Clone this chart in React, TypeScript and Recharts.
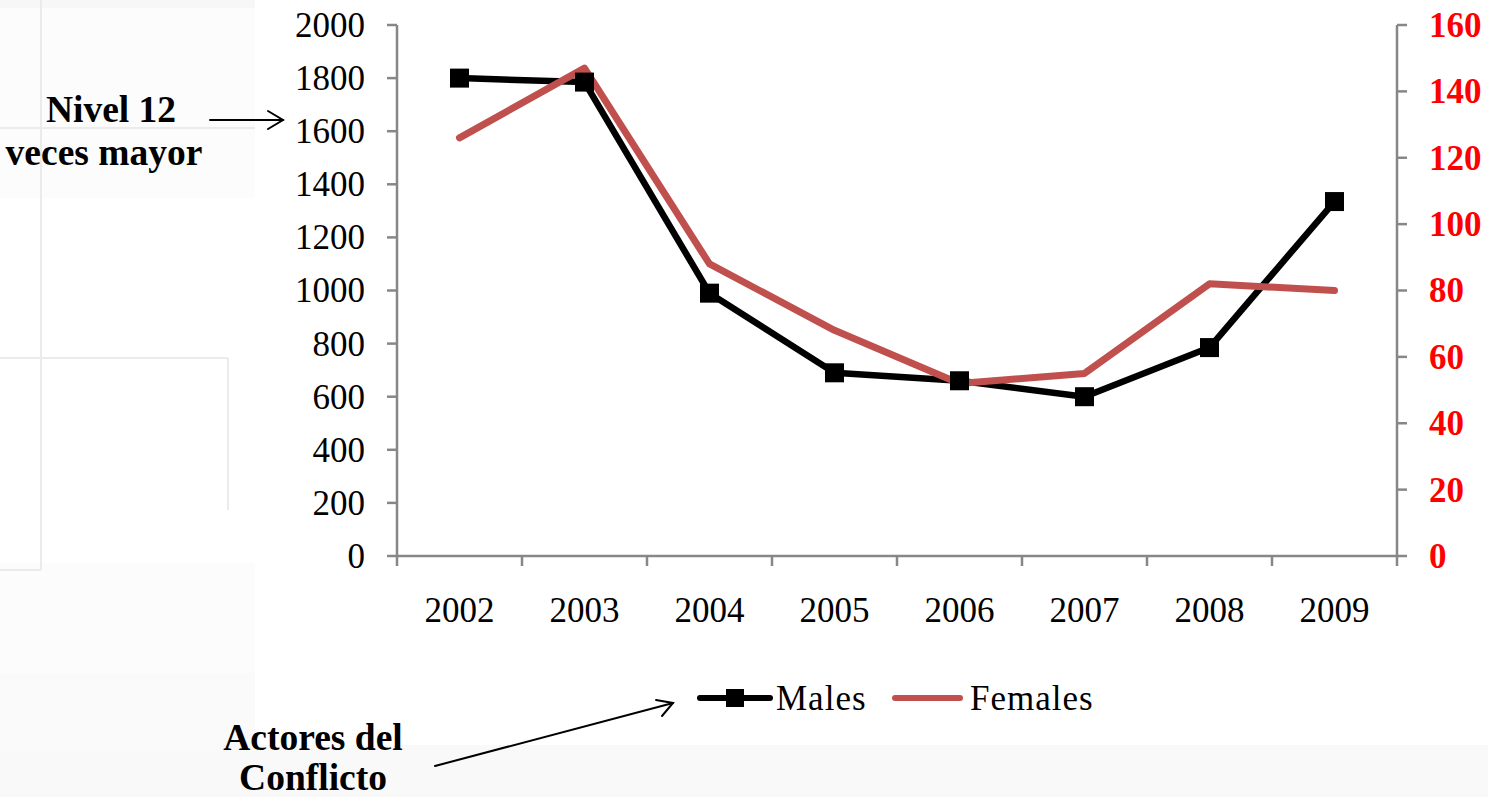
import React from 'react';
import { LineChart, Line, XAxis, YAxis, Legend } from 'recharts';

// Yearly counts: males on the left axis, females on the right axis
const years = ['2002', '2003', '2004', '2005', '2006', '2007', '2008', '2009'];
const males = [1800, 1785, 990, 690, 660, 600, 785, 1335];
const females = [126, 147, 88, 68, 52, 55, 82, 80];
const leftTicks = [0, 200, 400, 600, 800, 1000, 1200, 1400, 1600, 1800, 2000];
const rightTicks = [0, 20, 40, 60, 80, 100, 120, 140, 160];
const seriesNames = { males: 'Males', females: 'Females' };
const legendOrder = ['males', 'females'];

const data = years.map((year, i) => ({ year, males: males[i], females: females[i] }));

const WIDTH = 1488;
const HEIGHT = 797;
const PLOT_LEFT = 397;
const PLOT_RIGHT = 1397;
const PLOT_TOP = 25;
const PLOT_BOTTOM = 556;
const LEFT_AXIS_W = 100;
const RIGHT_AXIS_W = WIDTH - PLOT_RIGHT;
const X_AXIS_H = 80;

const AXIS_GRAY = '#878787';
const MALE_COLOR = '#000000';
const FEMALE_COLOR = '#C0504D';
const FONT = '"Liberation Serif", "Times New Roman", serif';
const TICK_SIZE = 35;

const band = (PLOT_RIGHT - PLOT_LEFT) / years.length;

// Category labels with boundary tick marks between the years
const YearTick = (props: any) => {
  const { x, y, payload, index } = props;
  const left = x - band / 2;
  const right = x + band / 2;
  return (
    <g>
      <line x1={left} x2={left} y1={y} y2={y + 10} stroke={AXIS_GRAY} strokeWidth={2.5} />
      {index === years.length - 1 && (
        <line x1={right} x2={right} y1={y} y2={y + 10} stroke={AXIS_GRAY} strokeWidth={2.5} />
      )}
      <text x={x} y={y + 66} textAnchor="middle" fontSize={TICK_SIZE} fontFamily={FONT} fill="#000">
        {payload.value}
      </text>
    </g>
  );
};

const LeftTick = (props: any) => {
  const { x, y, payload } = props;
  return (
    <text x={x} y={y} dy="0.34em" textAnchor="end" fontSize={TICK_SIZE} fontFamily={FONT} fill="#000">
      {payload.value}
    </text>
  );
};

const RightTick = (props: any) => {
  const { x, y, payload } = props;
  return (
    <text
      x={x}
      y={y}
      dy="0.34em"
      textAnchor="start"
      fontSize={TICK_SIZE}
      fontWeight="bold"
      fontFamily={FONT}
      fill="#FF0000"
    >
      {payload.value}
    </text>
  );
};

const SquareDot = (props: any) => {
  const { cx, cy, index } = props;
  if (cx == null || cy == null) return <g key={`sq-${index}`} />;
  return <rect key={`sq-${index}`} x={cx - 9.5} y={cy - 9.5} width={19} height={19} fill={MALE_COLOR} />;
};

// Legend: line samples with the series names
const legendSlots = [
  { lineFrom: 10, lineTo: 80, textX: 86 },
  { lineFrom: 205, lineTo: 270, textX: 280 },
];

const LegendContent = (props: any) => {
  const payload = [...(props.payload || [])].sort(
    (a: any, b: any) => legendOrder.indexOf(a.dataKey) - legendOrder.indexOf(b.dataKey)
  );
  return (
    <svg width={430} height={48} style={{ overflow: 'visible', display: 'block' }}>
      {payload.map((entry: any, i: number) => {
        const slot = legendSlots[i] || legendSlots[0];
        const isMale = entry.dataKey === 'males';
        return (
          <g key={entry.value}>
            <line
              x1={slot.lineFrom}
              x2={slot.lineTo}
              y1={24}
              y2={24}
              stroke={entry.color}
              strokeWidth={6}
              strokeLinecap="round"
            />
            {isMale && (
              <rect x={(slot.lineFrom + slot.lineTo) / 2 - 9} y={15} width={18} height={18} fill={entry.color} />
            )}
            <text x={slot.textX} y={36} fontSize={TICK_SIZE} fontFamily={FONT} fill="#000" letterSpacing={1}>
              {entry.value}
            </text>
          </g>
        );
      })}
    </svg>
  );
};

// Faint slide decorations behind the chart
const Backdrop = () => (
  <svg width={WIDTH} height={HEIGHT} style={{ position: 'absolute', left: 0, top: 0 }}>
    <rect x={0} y={0} width={WIDTH} height={HEIGHT} fill="#ffffff" />
    <rect x={0} y={0} width={255} height={8} fill="#f7f7f7" />
    <rect x={0} y={8} width={255} height={190} fill="#fcfcfc" />
    <rect x={0} y={563} width={255} height={240} fill="#fcfcfc" />
    <rect x={0} y={673} width={255} height={130} fill="#fafafa" />
    <rect x={0} y={745} width={WIDTH} height={60} fill="#f9f9f9" />
    <line x1={41} x2={41} y1={0} y2={570} stroke="#ebebeb" strokeWidth={2} />
    <line x1={0} x2={41} y1={570} y2={570} stroke="#ebebeb" strokeWidth={2} />
    <line x1={0} x2={255} y1={128} y2={128} stroke="#ebebeb" strokeWidth={2} />
    <line x1={0} x2={228} y1={358} y2={358} stroke="#ebebeb" strokeWidth={2} />
    <line x1={228} x2={228} y1={358} y2={510} stroke="#ebebeb" strokeWidth={2} />
  </svg>
);

// Callout texts and arrows
const Callouts = () => (
  <svg
    width={WIDTH}
    height={HEIGHT}
    style={{ position: 'absolute', left: 0, top: 0, pointerEvents: 'none' }}
  >
    <g fontFamily={FONT} fontWeight="bold" fontSize={37.5} fill="#000" textAnchor="middle">
      <text x={111} y={122}>Nivel 12</text>
      <text x={104} y={165}>veces mayor</text>
      <text x={313} y={750}>Actores del</text>
      <text x={313} y={790}>Conflicto</text>
    </g>
    <g stroke="#000" strokeWidth={2} fill="none" strokeLinecap="round">
      <line x1={210} y1={120} x2={283} y2={120} />
      <polyline points="268,111 283,120 268,129" />
      <line x1={435} y1={766} x2={673} y2={703} />
      <polyline points="656,700 673,703 662,716" />
    </g>
  </svg>
);

export default function App() {
  return (
    <div style={{ position: 'absolute', left: 0, top: 0, width: WIDTH, height: HEIGHT, background: '#fff' }}>
      <Backdrop />
      <div style={{ position: 'absolute', left: 0, top: 0 }}>
        <LineChart
          width={WIDTH}
          height={HEIGHT}
          data={data}
          margin={{
            top: PLOT_TOP,
            right: 0,
            left: PLOT_LEFT - LEFT_AXIS_W,
            bottom: HEIGHT - PLOT_BOTTOM - X_AXIS_H,
          }}
        >
          <XAxis
            dataKey="year"
            height={X_AXIS_H}
            padding={{ left: band / 2, right: band / 2 }}
            tickLine={false}
            tickSize={0}
            tickMargin={0}
            interval={0}
            axisLine={{ stroke: AXIS_GRAY, strokeWidth: 2.5 }}
            tick={<YearTick />}
          />
          <YAxis
            yAxisId="left"
            orientation="left"
            width={LEFT_AXIS_W}
            domain={[0, 2000]}
            ticks={leftTicks}
            interval={0}
            tickSize={10}
            tickMargin={22}
            axisLine={{ stroke: AXIS_GRAY, strokeWidth: 2.5 }}
            tickLine={{ stroke: AXIS_GRAY, strokeWidth: 2.5 }}
            tick={<LeftTick />}
          />
          <YAxis
            yAxisId="right"
            orientation="right"
            width={RIGHT_AXIS_W}
            domain={[0, 160]}
            ticks={rightTicks}
            interval={0}
            tickSize={10}
            tickMargin={22}
            axisLine={{ stroke: AXIS_GRAY, strokeWidth: 2.5 }}
            tickLine={{ stroke: AXIS_GRAY, strokeWidth: 2.5 }}
            tick={<RightTick />}
          />
          <Legend
            layout="horizontal"
            verticalAlign="middle"
            align="center"
            wrapperStyle={{ position: 'absolute', left: 690, top: 674, width: 430, height: 48 }}
            content={<LegendContent />}
          />
          <Line
            yAxisId="left"
            type="linear"
            dataKey="males"
            name={seriesNames.males}
            stroke={MALE_COLOR}
            strokeWidth={6.5}
            strokeLinejoin="round"
            dot={SquareDot}
            activeDot={false}
            isAnimationActive={false}
          />
          <Line
            yAxisId="right"
            type="linear"
            dataKey="females"
            name={seriesNames.females}
            stroke={FEMALE_COLOR}
            strokeWidth={7}
            strokeLinecap="round"
            strokeLinejoin="round"
            dot={false}
            activeDot={false}
            isAnimationActive={false}
          />
        </LineChart>
      </div>
      <Callouts />
    </div>
  );
}
